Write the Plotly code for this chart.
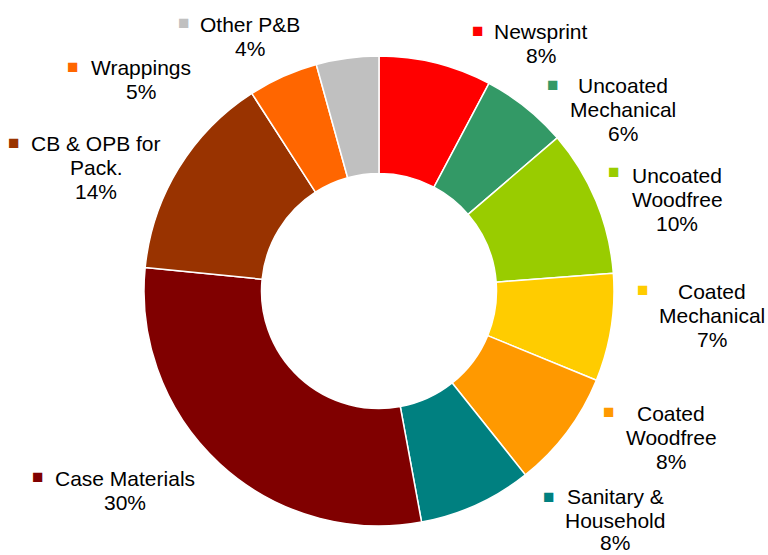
import plotly.graph_objects as go

categories = ["Newsprint", "Uncoated Mechanical", "Uncoated Woodfree", "Coated Mechanical",
              "Coated Woodfree", "Sanitary & Household", "Case Materials",
              "CB & OPB for Pack.", "Wrappings", "Other P&B"]
shares = [7.75, 5.95, 10.1, 7.4, 8.1, 7.8, 29.5, 14.3, 4.8, 4.3]
pct_labels = ["8%", "6%", "10%", "7%", "8%", "8%", "30%", "14%", "5%", "4%"]
label_lines = [["Newsprint"], ["Uncoated", "Mechanical"], ["Uncoated", "Woodfree"],
               ["Coated", "Mechanical"], ["Coated", "Woodfree"], ["Sanitary &", "Household"],
               ["Case Materials"], ["CB & OPB for", "Pack."], ["Wrappings"], ["Other P&B"]]
colors = ["#FF0000", "#339966", "#99CC00", "#FFCC00", "#FF9900", "#008080",
          "#800000", "#993300", "#FF6600", "#C0C0C0"]

# label layout (pixel positions in the 768x555 canvas): text center x, first-line center y, key square center
W, H = 768, 555
text_pos = [(541, 32), (623, 85), (677, 175), (712, 291), (671, 413), (615, 496),
            (125, 478), (96, 143), (141, 68), (250, 24)]
key_pos = [(477, 30), (552, 84), (613, 172), (642, 289), (608, 411), (548, 496),
           (37, 476), (13, 142), (72, 66), (183, 22)]
line_h = 24

fig = go.Figure(go.Pie(
    labels=categories, values=shares, sort=False, direction="clockwise", rotation=0,
    hole=0.5, marker=dict(colors=colors, line=dict(color="white", width=1.5)),
    textinfo="none", hoverinfo="label+percent", showlegend=False,
    domain=dict(x=[144 / W, 614 / W], y=[1 - 526 / H, 1 - 56 / H]),
))

font = dict(family="Liberation Sans, Arial, sans-serif", size=21, color="#000000")
for i, cat in enumerate(categories):
    lines = label_lines[i] + [pct_labels[i]]
    tx, ty = text_pos[i]
    for j, line in enumerate(lines):
        cy = min(ty + j * line_h, H - 12.5)
        fig.add_annotation(x=tx / W, y=1 - cy / H, xref="paper", yref="paper",
                           text=line, showarrow=False, align="center", borderpad=0,
                           xanchor="center", yanchor="middle", font=font)
    kx, ky = key_pos[i]
    fig.add_annotation(x=kx / W, y=1 - ky / H, xref="paper", yref="paper",
                       text="■", showarrow=False, xanchor="center", yanchor="middle",
                       font=dict(family="Liberation Sans, Arial, sans-serif", size=19, color=colors[i]))

fig.update_layout(width=W, height=H, margin=dict(l=0, r=0, t=0, b=0),
                  paper_bgcolor="white", plot_bgcolor="white")
fig.write_html("out.html", config={"displayModeBar": False},
               post_script="document.body.style.margin='0';")
